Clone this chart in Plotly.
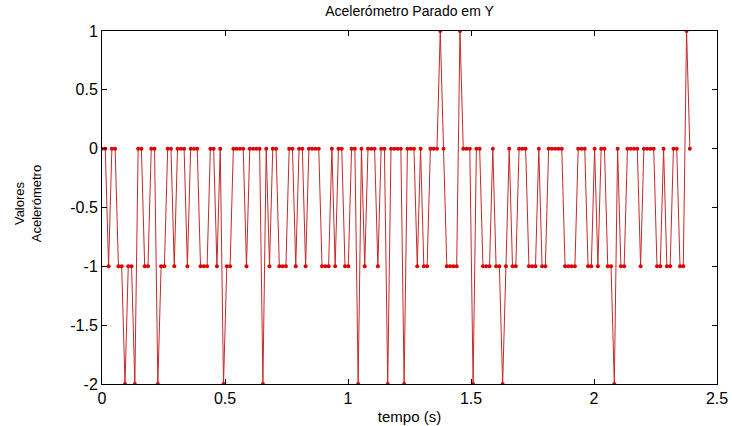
import plotly.graph_objects as go

# sampling interval (s)
dt = 0.01335

# accelerometer readings (Y axis), one per sample
values = [
    0, 0, -1, 0, 0, -1, -1, -2, -1, -1, -2, 0, 0, -1, -1, 0, 0, -2,
    -1, -1, 0, 0, -1, 0, 0, 0, -1, 0, 0, 0, -1, -1, -1, 0, 0, -1, 0,
    -2, -1, -1, 0, 0, 0, 0, -1, 0, 0, 0, 0, -2, 0, -1, 0, 0, -1,
    -1, -1, 0, 0, -1, 0, 0, -1, 0, 0, 0, 0, -1, -1, -1, 0, -1, 0,
    0, -1, -1, 0, 0, -2, 0, -1, 0, 0, 0, -1, 0, 0, -2, 0, 0, 0,
    0, -2, 0, 0, 0, -1, 0, -1, -1, 0, 0, 0, 1, 0, -1, -1, -1, -1, 1,
    0, 0, 0, -2, 0, 0, -1, -1, -1, 0, -1, -1, -2, -1, 0, -1, -1, 0,
    0, 0, -1, -1, -1, 0, -1, -1, 0, 0, 0, 0, 0, -1, -1, -1, -1, 0,
    0, 0, -1, -1, 0, -1, 0, 0, -1, -1, -2, 0, -1, -1, 0, 0, 0,
    0, -1, 0, 0, 0, 0, -1, -1, 0, -1, -1, 0, 0, -1, -1, 1, 0,
]
tempo = [i * dt for i in range(len(values))]

x_ticks = [0, 0.5, 1, 1.5, 2, 2.5]
x_tick_labels = ["0", "0.5", "1", "1.5", "2", "2.5"]
y_ticks = [1, 0.5, 0, -0.5, -1, -1.5, -2]
y_tick_labels = ["1", "0.5", "0", "-0.5", "-1", "-1.5", "-2"]

fig = go.Figure()
fig.add_trace(go.Scatter(
    x=tempo, y=values, mode="lines+markers",
    line=dict(color="#c42a2a", width=1),
    marker=dict(color="#e00000", size=4),
    showlegend=False,
))

font = "Liberation Sans, Arial, sans-serif"
fig.update_layout(
    width=732, height=426,
    margin=dict(l=102, r=15, t=31, b=42),
    paper_bgcolor="white", plot_bgcolor="white",
    font=dict(family=font, size=16, color="black"),
    title=dict(text="Acelerómetro Parado em Y", x=0.5, xref="paper",
               xanchor="center", y=0.985, yanchor="top",
               font=dict(size=14, family=font, color="black")),
    xaxis=dict(range=[0, 2.5], tickvals=x_ticks, ticktext=x_tick_labels,
               showgrid=False, zeroline=False, showline=True, mirror="ticks",
               linecolor="black", linewidth=1, ticks="inside", ticklen=5,
               tickcolor="black", tickfont=dict(size=16), automargin=False,
               title=dict(text="tempo (s)", standoff=5, font=dict(size=15))),
    yaxis=dict(range=[-2, 1], tickvals=y_ticks, ticktext=y_tick_labels,
               showgrid=False, zeroline=False, showline=True, mirror="ticks",
               linecolor="black", linewidth=1, ticks="inside", ticklen=5,
               tickcolor="black", tickfont=dict(size=16), automargin=False),
    annotations=[dict(text="Valores<br>Acelerómetro", xref="paper", yref="paper",
                      x=-0.12, y=0.51, xanchor="center", yanchor="middle",
                      textangle=-90, showarrow=False,
                      font=dict(size=13, family=font, color="black"))],
)

fig.write_html("out.html")
